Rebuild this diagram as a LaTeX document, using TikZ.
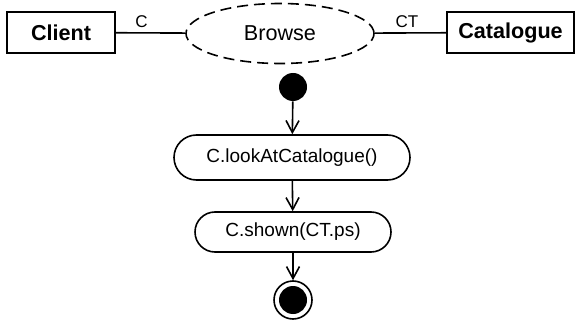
\documentclass[tikz,border=0pt]{standalone}
\usepackage{fontspec}
\setmainfont{Liberation Sans}
\usetikzlibrary{shapes.geometric,arrows.meta}

\tikzset{
  classbox/.style={draw, line width=0.8pt, font=\fontsize{10.8}{12}\selectfont\bfseries,
    minimum height=20.5pt},
  usecase/.style={draw, ellipse, dash pattern=on 5.5pt off 3pt, line width=0.8pt,
    minimum width=94pt, minimum height=30pt, font=\fontsize{10.8}{12}\selectfont},
  action/.style={draw, line width=0.8pt, font=\fontsize{9.5}{11}\selectfont},
  role/.style={font=\fontsize{8.5}{10}\selectfont, inner sep=2pt},
  flow/.style={line width=0.8pt, -{Straight Barb[length=6pt,width=6.5pt,line width=0.8pt]}},
}

\begin{document}
\begin{tikzpicture}[x=0.5pt, y=-0.5pt]
  \useasboundingbox (0,0) rectangle (577,320);

  \node[classbox, minimum width=54pt] (client) at (61,32.5) {Client};
  \node[usecase] (browse) at (280,33.5) {Browse};
  \node[classbox, minimum width=63.5pt] (catalogue) at (510.5,32.5) {Catalogue};

  \draw[line width=0.8pt] (client) -- node[role, pos=0.37, above] {C} (browse);
  \draw[line width=0.8pt] (browse) -- node[role, pos=0.45, above] {CT} (catalogue);

  \node[circle, fill, minimum size=14pt, inner sep=0pt] (start) at (293,87) {};
  \node[action, minimum width=118pt, minimum height=22.5pt, rounded corners=11.25pt]
    (look) at (292,157.5) {C.lookAtCatalogue()};
  \node[action, minimum width=98pt, minimum height=20pt, rounded corners=10pt]
    (shown) at (293,232) {C.shown(CT.ps)};
  \node[circle, draw, line width=0.8pt, minimum size=19pt, inner sep=0pt] (stop) at (293,300) {};
  \fill (stop.center) circle (7pt);

  \draw[flow] (start) -- (look);
  \draw[flow] (look) -- (shown);
  \draw[flow] (shown) -- (stop);
\end{tikzpicture}
\end{document}
